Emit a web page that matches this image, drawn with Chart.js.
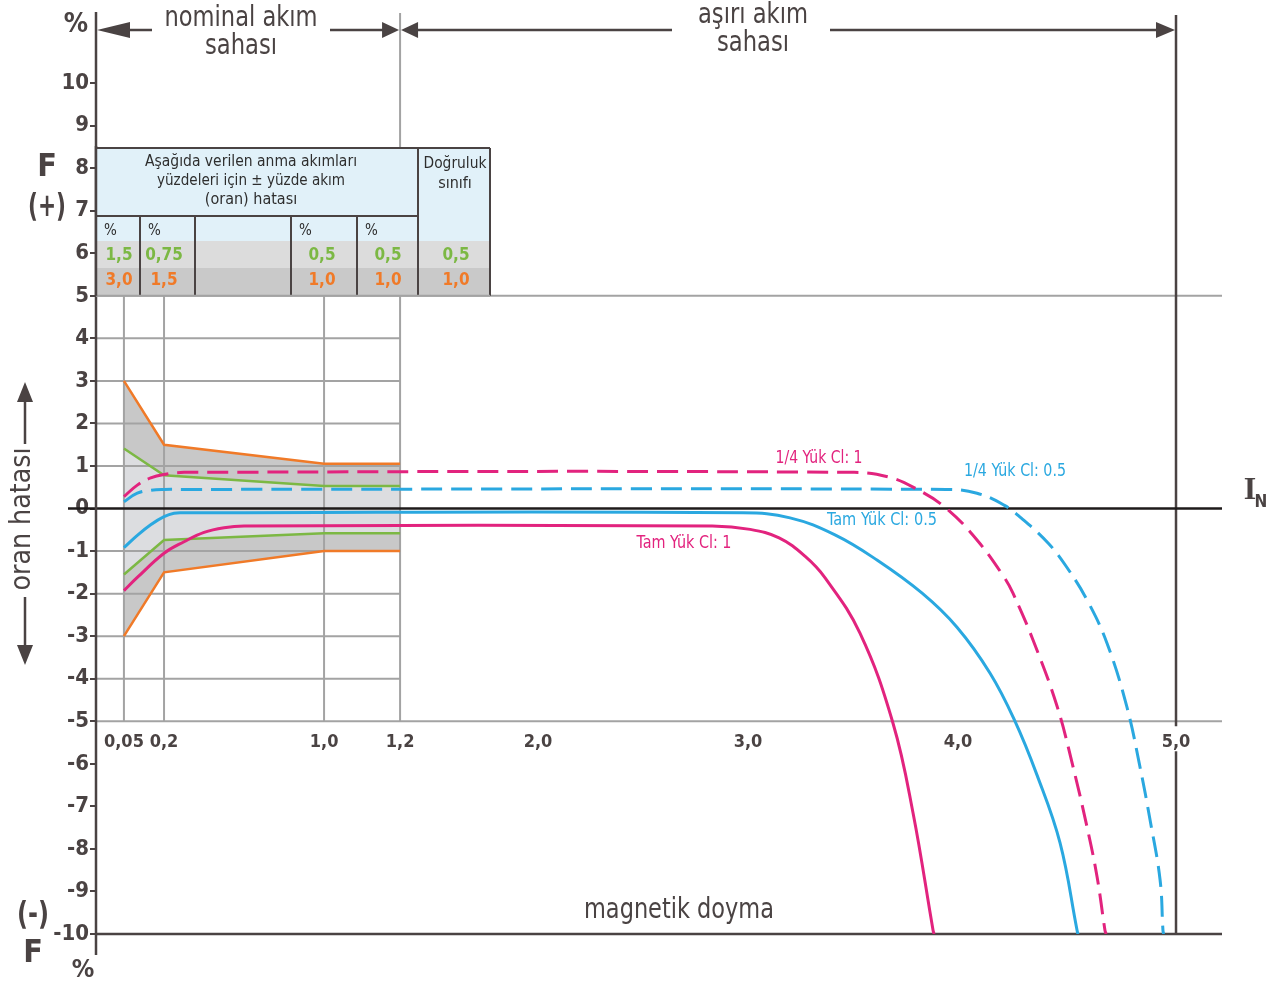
<!DOCTYPE html>
<html>
<head>
<meta charset="utf-8">
<script src="https://cdn.jsdelivr.net/npm/chart.js@4.4.1/dist/chart.umd.min.js"></script>
<style>
  html, body { margin: 0; padding: 0; background: #fff; }
  #chart { display: block; }
</style>
</head>
<body>
<canvas id="chart" width="1274" height="984"></canvas>
<script>
const FONT = "'DejaVu Sans Condensed', 'Liberation Sans Narrow', Roboto, sans-serif";
const INK = '#4a4343';
const GRID = '#a3a3a3';
const PINK = '#e2237e';
const BLUE = '#2aa8e0';
const ORANGE = '#f07a28';
const GREEN = '#7cb844';

// tick labels
const xTickValues = [0.05, 0.2, 1.0, 1.2, 2.0, 3.0, 4.0, 5.0];
const xTickLabels = ['0,05', '0,2', '1,0', '1,2', '2,0', '3,0', '4,0', '5,0'];
const yTickValues = [10, 9, 8, 7, 6, 5, 4, 3, 2, 1, 0, -1, -2, -3, -4, -5, -6, -7, -8, -9, -10];

// error limits (orange = class 1, green = class 0.5)
const limitX = [0.05, 0.2, 1.0, 1.2];
const cl1Upper = [3.0, 1.5, 1.05, 1.05];
const cl1Lower = [-3.0, -1.5, -1.0, -1.0];
const cl05Upper = [1.41, 0.78, 0.53, 0.53];
const cl05Lower = [-1.55, -0.74, -0.58, -0.58];

// Tam Yük Cl: 1
const pinkFullX = [0.05, 0.1, 0.2, 0.3, 0.4, 0.5, 0.6, 2.83, 3.01, 3.148, 3.271, 3.367, 3.533, 3.69, 3.786, 3.881, 3.886];
const pinkFullY = [-1.93, -1.62, -1.05, -0.78, -0.56, -0.45, -0.41, -0.41, -0.49, -0.69, -1.12, -1.63, -2.93, -5.04, -7.16, -9.91, -10];
// Tam Yük Cl: 0.5
const blueFullX = [0.05, 0.1, 0.15, 0.2, 0.25, 0.3, 2.976, 3.2, 3.414, 3.614, 3.829, 3.995, 4.147, 4.257, 4.362, 4.468, 4.546, 4.55];
const blueFullY = [-0.92, -0.63, -0.38, -0.19, -0.11, -0.1, -0.1, -0.22, -0.62, -1.21, -1.99, -2.79, -3.87, -4.95, -6.26, -7.86, -9.91, -10];
// 1/4 Yük Cl: 1
const pinkQuarterX = [0.05, 0.1, 0.15, 0.2, 0.3, 3.505, 3.671, 3.795, 3.943, 4.087, 4.211, 4.252, 4.344, 4.454, 4.528, 4.592, 4.638, 4.674, 4.679];
const pinkQuarterY = [0.28, 0.55, 0.72, 0.8, 0.85, 0.85, 0.74, 0.48, 0.01, -0.74, -1.61, -1.99, -3.09, -4.64, -6.08, -7.49, -8.66, -9.91, -10];
// 1/4 Yük Cl: 0.5
const blueQuarterX = [0.05, 0.1, 0.15, 0.2, 0.3, 3.943, 4.087, 4.211, 4.289, 4.413, 4.495, 4.592, 4.683, 4.775, 4.835, 4.881, 4.927, 4.94, 4.943];
const blueQuarterY = [0.16, 0.36, 0.43, 0.45, 0.45, 0.45, 0.36, 0.08, -0.22, -0.81, -1.35, -2.15, -3.16, -4.67, -6.08, -7.32, -8.73, -9.91, -10];

// table texts
const tableHeader = ['Aşağıda verilen anma akımları', 'yüzdeleri için ± yüzde akım', '(oran) hatası'];
const classHeader = ['Doğruluk', 'sınıfı'];
const cl05Row = ['1,5', '0,75', '', '0,5', '0,5', '0,5'];
const cl1Row = ['3,0', '1,5', '', '1,0', '1,0', '1,0'];

// the drawing's current axis is not to scale: break points of the stretched axis
const axisCurrent = [0, 0.05, 0.2, 1.0, 1.2, 2.0, 3.0, 4.0, 5.0, 6.0];
const axisSpan = [0, 0.133, 0.324, 1.086, 1.448, 2.105, 3.105, 4.105, 5.143, 6.181];

function warp(c) {
  for (let i = 1; i < axisCurrent.length; i++) {
    if (c <= axisCurrent[i]) {
      const t = (c - axisCurrent[i - 1]) / (axisCurrent[i] - axisCurrent[i - 1]);
      return axisSpan[i - 1] + t * (axisSpan[i] - axisSpan[i - 1]);
    }
  }
  return axisSpan[axisSpan.length - 1];
}

const pts = (xs, ys) => xs.map((x, i) => ({ x: warp(x), y: ys[i] }));

function seg(ctx, x1, y1, x2, y2, color, w, dash) {
  ctx.save();
  ctx.strokeStyle = color;
  ctx.lineWidth = w;
  ctx.setLineDash(dash || []);
  ctx.beginPath();
  ctx.moveTo(x1, y1);
  ctx.lineTo(x2, y2);
  ctx.stroke();
  ctx.restore();
}

function txt(ctx, s, x, y, font, color, maxW, align) {
  ctx.save();
  ctx.font = font;
  ctx.fillStyle = color;
  ctx.textAlign = align || 'center';
  ctx.textBaseline = 'middle';
  if (maxW) ctx.fillText(s, x, y, maxW); else ctx.fillText(s, x, y);
  ctx.restore();
}

function head(ctx, x, y, dir, len, half) {
  ctx.save();
  ctx.fillStyle = INK;
  ctx.beginPath();
  ctx.moveTo(x, y);
  if (dir === 'left') { ctx.lineTo(x + len, y - half); ctx.lineTo(x + len, y + half); }
  if (dir === 'right') { ctx.lineTo(x - len, y - half); ctx.lineTo(x - len, y + half); }
  if (dir === 'up') { ctx.lineTo(x - half, y + len); ctx.lineTo(x + half, y + len); }
  if (dir === 'down') { ctx.lineTo(x - half, y - len); ctx.lineTo(x + half, y - len); }
  ctx.closePath();
  ctx.fill();
  ctx.restore();
}

const decor = {
  id: 'decor',
  beforeDatasetsDraw(chart) {
    const { ctx, chartArea: a, scales } = chart;
    const X = c => scales.x.getPixelForValue(warp(c));
    const Y = v => scales.y.getPixelForValue(v);
    [1, 2, 3, 4, -1, -2, -3, -4].forEach(v => seg(ctx, a.left, Y(v), X(1.2), Y(v), GRID, 2));
    [5, -5].forEach(v => seg(ctx, a.left, Y(v), a.right, Y(v), GRID, 2));
    [0.05, 0.2, 1.0].forEach(c => seg(ctx, X(c), Y(5), X(c), Y(-5), GRID, 2));
    seg(ctx, X(1.2), a.top - 2, X(1.2), Y(-5), GRID, 2);
    seg(ctx, a.left, Y(-10), a.right, Y(-10), INK, 2.5);
    seg(ctx, X(5), a.top, X(5), Y(-5) + 5, INK, 2.5);
    seg(ctx, X(5), Y(-5) + 30, X(5), Y(-10), INK, 2.5);
    seg(ctx, 68, Y(0), a.right, Y(0), '#1e1a1a', 2.5);
    seg(ctx, a.left, a.top - 3, a.left, Y(-10) + 21, INK, 2.5);
  },
  afterDatasetsDraw(chart) {
    const { ctx, chartArea: a, scales } = chart;
    const X = c => scales.x.getPixelForValue(warp(c));
    const Y = v => scales.y.getPixelForValue(v);

    // table
    const colX = [a.left, 140, 195, 291, 357, 418, 490];
    const top = 148, r1 = 216, r2 = 241, r3 = 268, bot = Y(5);
    ctx.save();
    ctx.fillStyle = '#e1f1f9';
    ctx.fillRect(colX[0], top, colX[6] - colX[0], r2 - top);
    ctx.fillStyle = '#dcdcdc';
    ctx.fillRect(colX[0], r2, colX[6] - colX[0], r3 - r2);
    ctx.fillStyle = '#c9c9c9';
    ctx.fillRect(colX[0], r3, colX[6] - colX[0], bot - r3);
    ctx.restore();
    seg(ctx, colX[0], top, colX[6], top, INK, 2);
    seg(ctx, colX[0], r1, colX[5], r1, INK, 2);
    seg(ctx, colX[5], top, colX[5], bot, INK, 2);
    seg(ctx, colX[6], top, colX[6], bot, INK, 2);
    [1, 2, 3, 4].forEach(i => seg(ctx, colX[i], r1, colX[i], bot, INK, 2));
    seg(ctx, colX[0], bot, colX[6], bot, GRID, 2);
    seg(ctx, a.left, top - 2, a.left, bot, INK, 2.5);
    const hf = `16px ${FONT}`;
    txt(ctx, tableHeader[0], 251, 162, hf, '#2e2e2e', 212);
    txt(ctx, tableHeader[1], 251, 181, hf, '#2e2e2e', 188);
    txt(ctx, tableHeader[2], 251, 200, hf, '#2e2e2e', 104);
    txt(ctx, classHeader[0], 455, 164, hf, '#2e2e2e', 63);
    txt(ctx, classHeader[1], 455, 184, hf, '#2e2e2e', 34);
    [0, 1, 3, 4].forEach(i => txt(ctx, '%', colX[i] + 8, 231, `15px ${FONT}`, '#2e2e2e', null, 'left'));
    const cellX = [119, 164, 243, 322, 388, 456];
    cl05Row.forEach((s, i) => s && txt(ctx, s, cellX[i], 256, `bold 17px ${FONT}`, GREEN));
    cl1Row.forEach((s, i) => s && txt(ctx, s, cellX[i], 281, `bold 17px ${FONT}`, ORANGE));

    // top range arrows
    const ay = 30;
    head(ctx, a.left + 1, ay, 'left', 33, 8);
    seg(ctx, a.left + 30, ay, 152, ay, INK, 2.5);
    seg(ctx, 330, ay, X(1.2) - 14, ay, INK, 2.5);
    head(ctx, X(1.2) - 1, ay, 'right', 17, 8);
    head(ctx, X(1.2) + 1, ay, 'left', 17, 8);
    seg(ctx, X(1.2) + 14, ay, 672, ay, INK, 2.5);
    seg(ctx, 830, ay, X(5) - 16, ay, INK, 2.5);
    head(ctx, X(5) - 1, ay, 'right', 19, 8);
    const tf = `28px ${FONT}`;
    txt(ctx, 'nominal akım', 241, 19, tf, INK, 153);
    txt(ctx, 'sahası', 241, 47, tf, INK, 72);
    txt(ctx, 'aşırı akım', 753, 16, tf, INK, 110);
    txt(ctx, 'sahası', 753, 44, tf, INK, 72);

    // axis side labels
    const bf = `bold 32px ${FONT}`;
    txt(ctx, '%', 76, 25, `bold 27px ${FONT}`, INK);
    txt(ctx, 'F', 47, 168, bf, INK);
    txt(ctx, '(+)', 47, 208, bf, INK, 38);
    txt(ctx, '(-)', 33, 916, bf, INK, 32);
    txt(ctx, 'F', 33, 954, bf, INK);
    txt(ctx, '%', 83, 970, `bold 25px ${FONT}`, INK);

    ctx.save();
    ctx.translate(22, 519);
    ctx.rotate(-Math.PI / 2);
    txt(ctx, 'oran hatası', 0, 0, `29px ${FONT}`, INK, 143);
    ctx.restore();
    seg(ctx, 25, 400, 25, 444, INK, 2.5);
    head(ctx, 25, 382, 'up', 20, 8);
    seg(ctx, 25, 597, 25, 647, INK, 2.5);
    head(ctx, 25, 665, 'down', 20, 8);

    // I_N
    txt(ctx, 'I', 1250, 491, `bold 32px 'Liberation Serif', serif`, INK);
    txt(ctx, 'N', 1261, 503, `bold 17px ${FONT}`, INK);

    // curve labels
    const lf = `17px ${FONT}`;
    txt(ctx, '1/4 Yük Cl: 1', 819, 459, lf, PINK, 87);
    txt(ctx, '1/4 Yük Cl: 0.5', 1015, 472, lf, BLUE, 102);
    txt(ctx, 'Tam Yük Cl: 0.5', 882, 521, lf, BLUE, 110);
    txt(ctx, 'Tam Yük Cl: 1', 684, 544, lf, PINK, 95);
    txt(ctx, 'magnetik doyma', 679, 910, `29px ${FONT}`, INK, 190);
  }
};

const curve = (label, xs, ys, color, dash) => ({
  label, data: pts(xs, ys), borderColor: color, borderWidth: 3,
  borderDash: dash || [], tension: 0.4,
  pointRadius: 0, fill: false
});
const limit = (label, ys, color, fill, bg) => ({
  label, data: pts(limitX, ys), borderColor: color, borderWidth: 2.5,
  tension: 0, pointRadius: 0, fill, backgroundColor: bg
});

new Chart(document.getElementById('chart'), {
  type: 'line',
  data: {
    datasets: [
      curve('Tam Yük Cl: 1', pinkFullX, pinkFullY, PINK),
      curve('Tam Yük Cl: 0.5', blueFullX, blueFullY, BLUE),
      curve('1/4 Yük Cl: 1', pinkQuarterX, pinkQuarterY, PINK, [21, 9]),
      curve('1/4 Yük Cl: 0.5', blueQuarterX, blueQuarterY, BLUE, [21, 9]),
      limit('Cl 0.5 +', cl05Upper, GREEN, { target: 5 }, '#dcdde0'),
      limit('Cl 0.5 -', cl05Lower, GREEN, false),
      limit('Cl 1 +', cl1Upper, ORANGE, { target: 7 }, '#c8c8c8'),
      limit('Cl 1 -', cl1Lower, ORANGE, false)
    ]
  },
  options: {
    responsive: false,
    animation: false,
    events: [],
    layout: { padding: { left: 0, right: 52, top: 15, bottom: 50 } },
    plugins: {
      legend: { display: false },
      tooltip: { enabled: false },
      filler: { drawTime: 'beforeDatasetsDraw' }
    },
    scales: {
      x: {
        type: 'linear', min: 0, max: 5.362,
        position: { y: -5 },
        afterBuildTicks: s => { s.ticks = xTickValues.map(v => ({ value: warp(v) })); },
        grid: { display: false, drawTicks: false },
        border: { display: false },
        ticks: {
          callback: (v, i) => xTickLabels[i],
          font: { family: FONT, size: 18, weight: 'bold' },
          color: INK, padding: 10, maxRotation: 0, autoSkip: false
        }
      },
      y: {
        type: 'linear', min: -10, max: 11.6, position: 'left',
        afterFit: s => { s.width = 96; },
        afterBuildTicks: s => { s.ticks = yTickValues.map(v => ({ value: v })); },
        grid: { drawOnChartArea: false, drawTicks: true, tickLength: 6, color: INK, lineWidth: 2 },
        border: { display: false },
        ticks: {
          callback: v => String(v),
          font: { family: FONT, size: 22, weight: 'bold' },
          color: INK, padding: 1, autoSkip: false
        }
      }
    }
  },
  plugins: [decor]
});
</script>
</body>
</html>
